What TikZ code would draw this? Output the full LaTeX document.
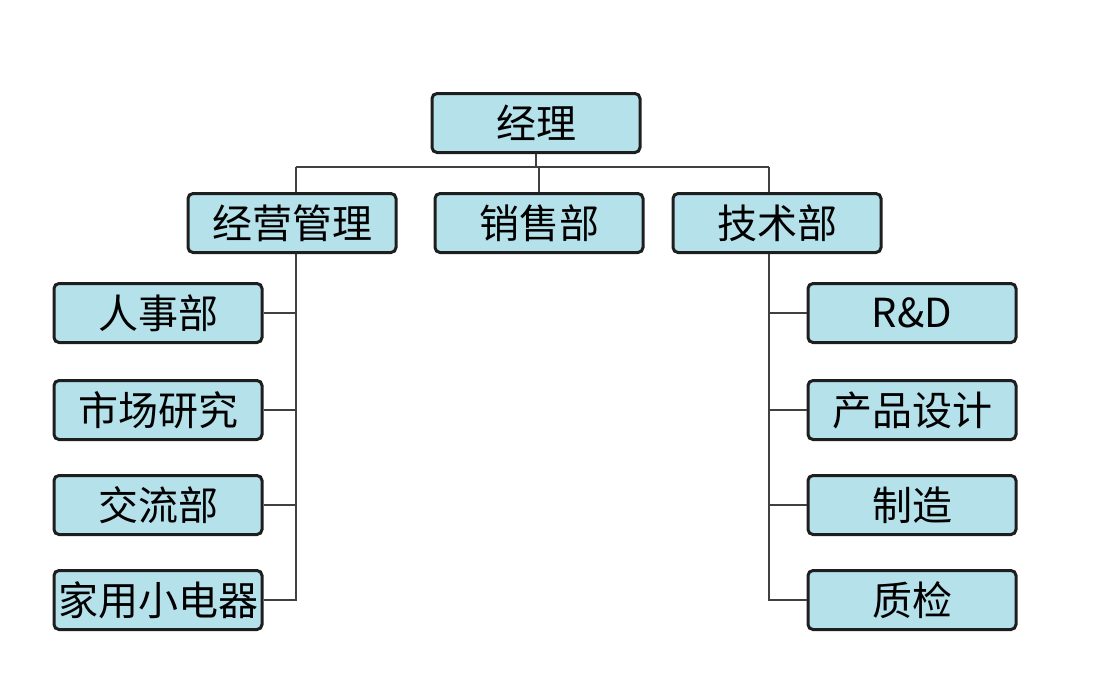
\documentclass[tikz,border=0pt]{standalone}
\usepackage{fontspec}
\setmainfont{Noto Sans CJK SC}
\definecolor{boxfill}{HTML}{B4E1EA}
\definecolor{boxline}{HTML}{1E1E1E}
\tikzset{
  dept/.style={draw=boxline, fill=boxfill, line width=1.5pt, rounded corners=2.5pt,
    minimum width=104pt, minimum height=29.5pt, inner sep=0pt,
    font=\fontsize{20}{24}\selectfont},
  link/.style={draw=black!75, line width=0.7pt}
}
\begin{document}
\begin{tikzpicture}[x=0.5pt, y=-0.5pt]
    \useasboundingbox (0,0) rectangle (1120,681);
    % top level
    \node[dept] (boss) at (536,123) {经理};
    \node[dept] (jy) at (292,223) {经营管理};
    \node[dept] (xs) at (539,223) {销售部};
    \node[dept] (js) at (777,223) {技术部};
    % left column
    \node[dept] (rs) at (158,313) {人事部};
    \node[dept] (sc) at (158,410) {市场研究};
    \node[dept] (jl) at (158,505) {交流部};
    \node[dept] (jd) at (158,600) {家用小电器};
    % right column
    \node[dept] (rd) at (912,313) {R\&D};
    \node[dept] (cp) at (912,410) {产品设计};
    \node[dept] (zz) at (912,505) {制造};
    \node[dept] (zj) at (912,600) {质检};
    % bar
    \coordinate (hl) at (296,167);
    \coordinate (hr) at (769,167);
    \draw[link] (hl) -- (hr);
    \draw[link] (boss.south) -- (boss.south |- hl);
    \draw[link] (xs.north) -- (xs.north |- hl);
    \draw[link] (hl) -- (hl |- jy.north);
    \draw[link] (hr) -- (hr |- js.north);
    % left branch
    \draw[link] (hl |- jy.south) |- (jd.east);
    \foreach \n in {rs,sc,jl}
      \draw[link] (\n.east) -- (\n.east -| hl);
    % right branch
    \draw[link] (hr |- js.south) |- (zj.west);
    \foreach \n in {rd,cp,zz}
      \draw[link] (\n.west) -- (\n.west -| hr);
\end{tikzpicture}
\end{document}
